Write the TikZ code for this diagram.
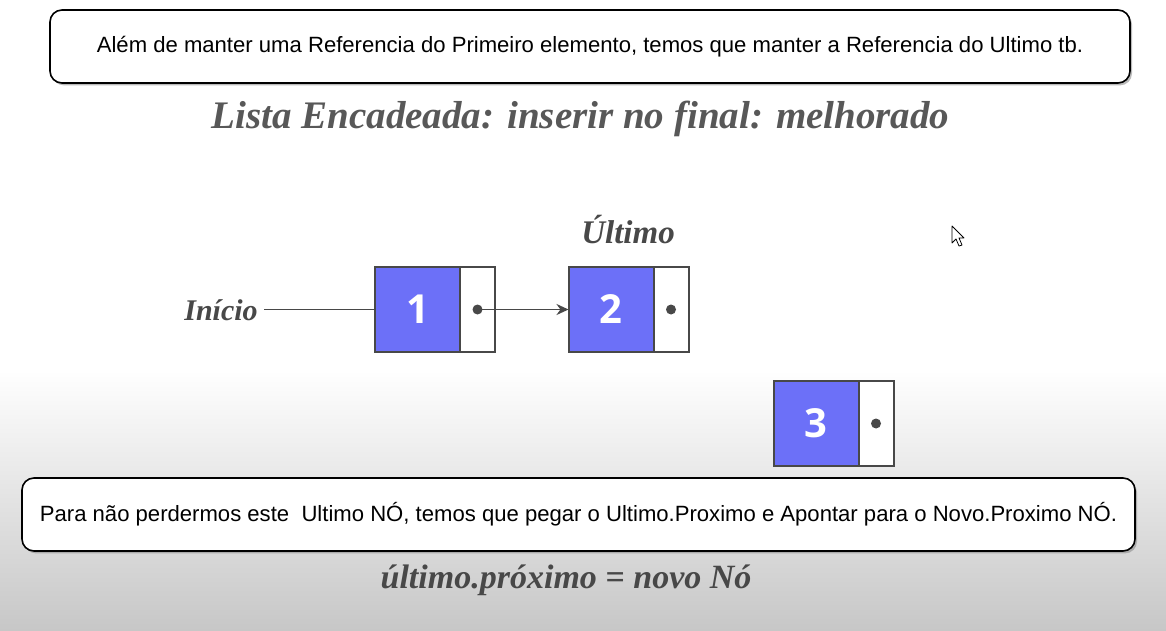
\documentclass[tikz,border=0pt]{standalone}
\usepackage{fontspec}
\setmainfont{Liberation Serif}
\setsansfont{Liberation Sans}
\newfontfamily\numfont{Open Sans}
\usetikzlibrary{positioning,shadows,arrows.meta}

\definecolor{cellblue}{RGB}{108,112,248}
\definecolor{inkgray}{RGB}{72,72,72}
\definecolor{titlegray}{RGB}{88,88,88}

\tikzset{
  valcell/.style={draw=inkgray, line width=1pt, fill=cellblue, minimum width=42.5pt,
    minimum height=42.5pt, inner sep=0pt, outer sep=0pt, text=white,
    font=\numfont\bfseries\fontsize{20}{20}\selectfont},
  ptrcell/.style={draw=inkgray, line width=1pt, fill=white, minimum width=17.5pt,
    minimum height=42.5pt, inner sep=0pt, outer sep=0pt},
  notebox/.style={draw=black, line width=0.8pt, rounded corners=6pt, fill=white,
    minimum height=36.5pt, inner sep=0pt,
    drop shadow={shadow xshift=1pt, shadow yshift=-1.2pt, fill=black!45, opacity=0.6},
    font=\sffamily\fontsize{11.05}{13}\selectfont},
  serifit/.style={font=\bfseries\itshape\fontsize{15}{18}\selectfont, text=inkgray, inner sep=0pt},
  link/.style={draw=inkgray, line width=0.9pt}
}

\begin{document}
\begin{tikzpicture}[x=0.5pt,y=-0.5pt]
    \useasboundingbox (0,0) rectangle (1166,631);

    % Background: white on top, fading to gray at the bottom
    \fill[white] (0,0) rectangle (1166,370);
    \shade[top color=white, bottom color=black!22] (0,370) rectangle (1166,631);

    % Top note
    \node[notebox, minimum width=540pt] (topnote) at (590,46.5)
      {Além de manter uma Referencia do Primeiro elemento, temos que manter a Referencia do Ultimo tb.};

    % Title
    \node[font=\bfseries\itshape\fontsize{19.5}{24}\selectfont, text=titlegray, inner sep=0pt,
      anchor=base] (title) at (580.5,128) {Lista Encadeada: inserir no final: melhorado};

    % The list cells
    \node[valcell] (v1) at (417.5,309.5) {1};
    \node[ptrcell, right=0pt of v1] (p1) {};
    \node[valcell] (v2) at (611,309.5) {2};
    \node[ptrcell, right=0pt of v2] (p2) {};
    \node[valcell] (v3) at (816,423.5) {3};
    \node[ptrcell, right=0pt of v3] (p3) {};

    % Pointer dots
    \fill[inkgray] (p1.center) circle (2.5pt);
    \fill[inkgray] (p2.center) circle (2.5pt);
    \fill[inkgray] (p3.center) circle (2.5pt);

    % Labels and links
    \node[serifit, anchor=base] (ini) at (221,320) {Início};
    \node[serifit, anchor=base, font=\bfseries\itshape\fontsize{16.5}{18}\selectfont] (ult) at (628,243) {Último};
    \coordinate (inistart) at ([xshift=3pt]ini.east |- v1.west);
    \draw[link] (inistart) -- (v1.west);
    \draw[link, -{Stealth[length=6pt,width=5.5pt]}] (p1.center) -- (v2.west);

    % Bottom note
    \node[notebox, minimum width=556.5pt] (botnote) at (578.5,514.5)
      {Para não perdermos este\ \ Ultimo NÓ, temos que pegar o Ultimo.Proximo e Apontar para o Novo.Proximo NÓ.};

    % Formula
    \node[font=\bfseries\itshape\fontsize{17}{20}\selectfont, text=inkgray, inner sep=0pt,
      anchor=base] (formula) at (566,588) {último.próximo = novo Nó};

    % Mouse pointer
    \draw[fill=white, line width=0.4pt, line join=round]
      (952,226) -- (952,243) -- (956,239) -- (959,246) -- (962,245) -- (959,238) -- (964,238) -- cycle;

\end{tikzpicture}
\end{document}
